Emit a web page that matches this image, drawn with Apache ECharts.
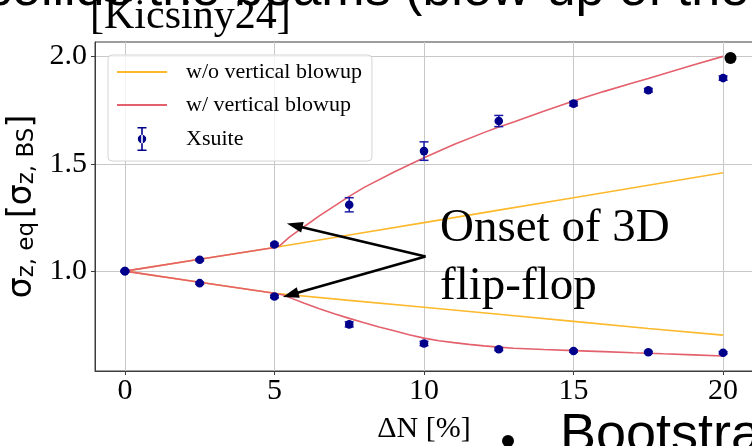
<!DOCTYPE html>
<html>
<head>
<meta charset="utf-8">
<script src="https://cdn.jsdelivr.net/npm/echarts@6/dist/echarts.min.js"></script>
<style>
html, body { margin: 0; padding: 0; background: #fff; }
#chart { width: 752px; height: 446px; }
</style>
</head>
<body>
<div id="chart"></div>
<script>
// Intensity change ΔN [%] at which the Xsuite simulations were run
const deltaN = [0, 2.5, 5, 7.5, 10, 12.5, 15, 17.5, 20];

// Xsuite equilibrium bunch lengths (two beams) and their error bars
const xsuiteUpper    = [1.000, 1.053, 1.124, 1.309, 1.559, 1.699, 1.780, 1.842, 1.899];
const xsuiteUpperErr = [0.004, 0.005, 0.006, 0.033, 0.043, 0.026, 0.010, 0.008, 0.010];
const xsuiteLower    = [1.000, 0.944, 0.882, 0.752, 0.663, 0.636, 0.628, 0.622, 0.620];
const xsuiteLowerErr = [0.004, 0.005, 0.006, 0.012, 0.010, 0.006, 0.005, 0.005, 0.005];

// Model without vertical blowup
const noBlowupX      = [0, 2.5, 5, 7.5, 10, 12.5, 15, 17.5, 20];
const noBlowupUpper  = [1.000, 1.055, 1.110, 1.168, 1.226, 1.284, 1.342, 1.400, 1.458];
const noBlowupLower  = [1.000, 0.948, 0.897, 0.864, 0.832, 0.799, 0.766, 0.733, 0.702];

// Model with vertical blowup (flip-flop sets in just above ΔN = 5 %)
const blowupUpperX = [0, 2.5, 5, 5.2, 5.5, 6, 6.5, 7, 7.5, 8, 9, 10, 11, 12, 12.5, 13, 14, 15, 16, 17, 17.5, 18, 19, 20];
const blowupUpper  = [1.000, 1.055, 1.110, 1.121, 1.158, 1.208, 1.257, 1.303, 1.348, 1.390, 1.462, 1.528, 1.590, 1.645, 1.671, 1.695, 1.745, 1.792, 1.836, 1.877, 1.897, 1.918, 1.960, 2.000];
const blowupLowerX = [0, 2.5, 5, 5.3, 5.6, 6, 6.5, 7, 7.5, 8, 8.5, 9, 9.5, 10, 10.5, 11, 11.5, 12, 12.5, 13, 14, 15, 16, 17, 17.5, 18, 19, 20];
const blowupLower  = [1.000, 0.948, 0.897, 0.889, 0.872, 0.850, 0.825, 0.802, 0.780, 0.760, 0.740, 0.722, 0.704, 0.688, 0.676, 0.667, 0.659, 0.652, 0.646, 0.641, 0.635, 0.630, 0.625, 0.620, 0.618, 0.615, 0.610, 0.605];

// Axis ticks
const xTicks = [0, 5, 10, 15, 20];
const yTicks = [1.0, 1.5, 2.0];

// Annotation arrows: shared tail and the two heads (data coordinates)
const arrowTail  = [10.05, 1.068];
const arrowHeads = [[5.675, 1.213], [5.538, 0.890]];

const ORANGE = '#fdb92c';
const RED = '#e3606c';
const NAVY = '#00008b';
const BAR = '#1a1aa6';
const SERIF = '"Liberation Serif", "Times New Roman", serif';
const SANS = '"Liberation Sans", Arial, sans-serif';
const DEJAVU = '"DejaVu Sans", sans-serif';

const pairs = (xs, ys) => xs.map((x, i) => [x, ys[i]]);
const xsuiteData = deltaN.map((x, i) => [x, xsuiteUpper[i], xsuiteUpperErr[i]])
  .concat(deltaN.map((x, i) => [x, xsuiteLower[i], xsuiteLowerErr[i]]));

function renderErrorBar(params, api) {
  const x = api.value(0), y = api.value(1), e = api.value(2);
  const c = api.coord([x, y]);
  const hi = api.coord([x, y + e]);
  const lo = api.coord([x, y - e]);
  const cap = 4.5;
  const bar = { stroke: BAR, lineWidth: 1.5 };
  return {
    type: 'group',
    children: [
      { type: 'line', shape: { x1: c[0], y1: hi[1], x2: c[0], y2: lo[1] }, style: bar },
      { type: 'line', shape: { x1: c[0] - cap, y1: hi[1], x2: c[0] + cap, y2: hi[1] }, style: bar },
      { type: 'line', shape: { x1: c[0] - cap, y1: lo[1], x2: c[0] + cap, y2: lo[1] }, style: bar },
      { type: 'circle', shape: { cx: c[0], cy: c[1], r: 4.3 }, style: { fill: NAVY } }
    ]
  };
}

const lineSeries = (name, color, data, z, extra) => Object.assign({
  name, type: 'line', data, z,
  showSymbol: false, symbol: 'none', smooth: false,
  lineStyle: { color, width: 1.6 }, itemStyle: { color },
  emphasis: { disabled: true }, silent: true
}, extra || {});

const chart = echarts.init(document.getElementById('chart'), null, { renderer: 'canvas' });

chart.setOption({
  animation: false,
  backgroundColor: '#fff',
  grid: {
    left: 95, top: 42, width: 658, height: 329,
    outerBoundsMode: 'none', containLabel: false,
    show: true, borderColor: '#3c3c3c', borderWidth: 1, backgroundColor: 'transparent'
  },
  xAxis: {
    type: 'value', min: -1, max: 21,
    name: 'ΔN [%]', nameLocation: 'middle', nameGap: 43,
    nameTextStyle: { fontFamily: SERIF, fontSize: 30, color: '#000' },
    axisLine: { show: true, onZero: false, lineStyle: { color: '#3c3c3c', width: 1 } },
    axisTick: { show: true, length: 4, lineStyle: { color: '#3c3c3c' }, customValues: xTicks },
    axisLabel: { customValues: xTicks, fontFamily: SERIF, fontSize: 30, color: '#000', margin: 5 },
    splitLine: { show: true, lineStyle: { color: '#c8c8c8', width: 1 } }
  },
  yAxis: {
    type: 'value', min: 0.535, max: 2.067,
    name: '{m|σ}{s|z, eq} {m|[σ}{s|z, BS}{m|]}',
    nameLocation: 'middle', nameGap: 55, nameRotate: 90,
    nameTextStyle: {
      fontFamily: DEJAVU, color: '#000',
      rich: {
        m: { fontFamily: DEJAVU, fontSize: 33, color: '#000', lineHeight: 38, verticalAlign: 'bottom' },
        s: { fontFamily: DEJAVU, fontSize: 23, color: '#000', lineHeight: 19, verticalAlign: 'bottom' }
      }
    },
    axisLine: { show: true, onZero: false, lineStyle: { color: '#3c3c3c', width: 1 } },
    axisTick: { show: true, length: 4, lineStyle: { color: '#3c3c3c' }, customValues: yTicks },
    axisLabel: { customValues: yTicks, fontFamily: SERIF, fontSize: 30, color: '#000', margin: 8,
                 formatter: v => v.toFixed(1) },
    splitLine: { show: true, lineStyle: { color: '#c8c8c8', width: 1 } }
  },
  legend: {
    left: 108, top: 55, orient: 'vertical',
    selectedMode: false,
    itemWidth: 50, itemHeight: 24, itemGap: 11,
    padding: [6, 10, 10, 9],
    backgroundColor: 'rgba(255,255,255,0.8)',
    borderColor: '#d4d4d4', borderWidth: 1, borderRadius: 4,
    textStyle: { fontFamily: SERIF, fontSize: 22, color: '#000', padding: [0, 0, 0, 14] },
    data: [
      { name: 'w/o vertical blowup', icon: 'path://M0,0H50V1.8H0Z' },
      { name: 'w/ vertical blowup', icon: 'path://M0,0H50V1.8H0Z' },
      { name: 'Xsuite', icon: 'path://M0,0H9V1.6H0Z M3.7,0H5.3V24H3.7Z M0,22.4H9V24H0Z M0.3,12a4.2,4.2 0 1,0 8.4,0a4.2,4.2 0 1,0 -8.4,0Z' }
    ]
  },
  series: [
    lineSeries('w/o vertical blowup', ORANGE, pairs(noBlowupX, noBlowupUpper), 2, {
      markLine: {
        silent: true,
        symbol: ['none', 'triangle'],
        symbolSize: [11, 16],
        lineStyle: { color: '#000', width: 2.6, type: 'solid' },
        label: { show: false },
        emphasis: { disabled: true },
        data: arrowHeads.map(h => [{ coord: arrowTail }, { coord: h }])
      }
    }),
    lineSeries('w/o vertical blowup', ORANGE, pairs(noBlowupX, noBlowupLower), 2),
    lineSeries('w/ vertical blowup', RED, pairs(blowupUpperX, blowupUpper), 3),
    lineSeries('w/ vertical blowup', RED, pairs(blowupLowerX, blowupLower), 3),
    {
      name: 'Xsuite', type: 'custom', z: 4,
      data: xsuiteData,
      itemStyle: { color: NAVY },
      renderItem: renderErrorBar,
      silent: true
    }
  ],
  graphic: [
    // slide text around the figure
    { type: 'text', left: -14, top: -35, z: 10, silent: true,
      style: { text: 'collide the beams (blow-up of the', font: '52px ' + SANS, fill: '#000' } },
    { type: 'text', left: 90, top: -4, z: 11, silent: true,
      style: { text: '[Kicsiny24]', font: '42px ' + SERIF, fill: '#000', backgroundColor: 'transparent' } },
    { type: 'circle', shape: { cx: 730.5, cy: 58, r: 6 }, style: { fill: '#000' }, z: 10, silent: true },
    { type: 'circle', shape: { cx: 508, cy: 441, r: 6 }, style: { fill: '#000' }, z: 10, silent: true },
    { type: 'text', left: 560, top: 409, z: 10, silent: true,
      style: { text: 'Bootstrap', font: '54px ' + SANS, fill: '#000' } },
    { type: 'text', left: 440, top: 200, z: 10, silent: true,
      style: { text: 'Onset of 3D\nflip-flop', font: '47px ' + SERIF, lineHeight: 58, fill: '#000' } }
  ]
});
</script>
</body>
</html>
